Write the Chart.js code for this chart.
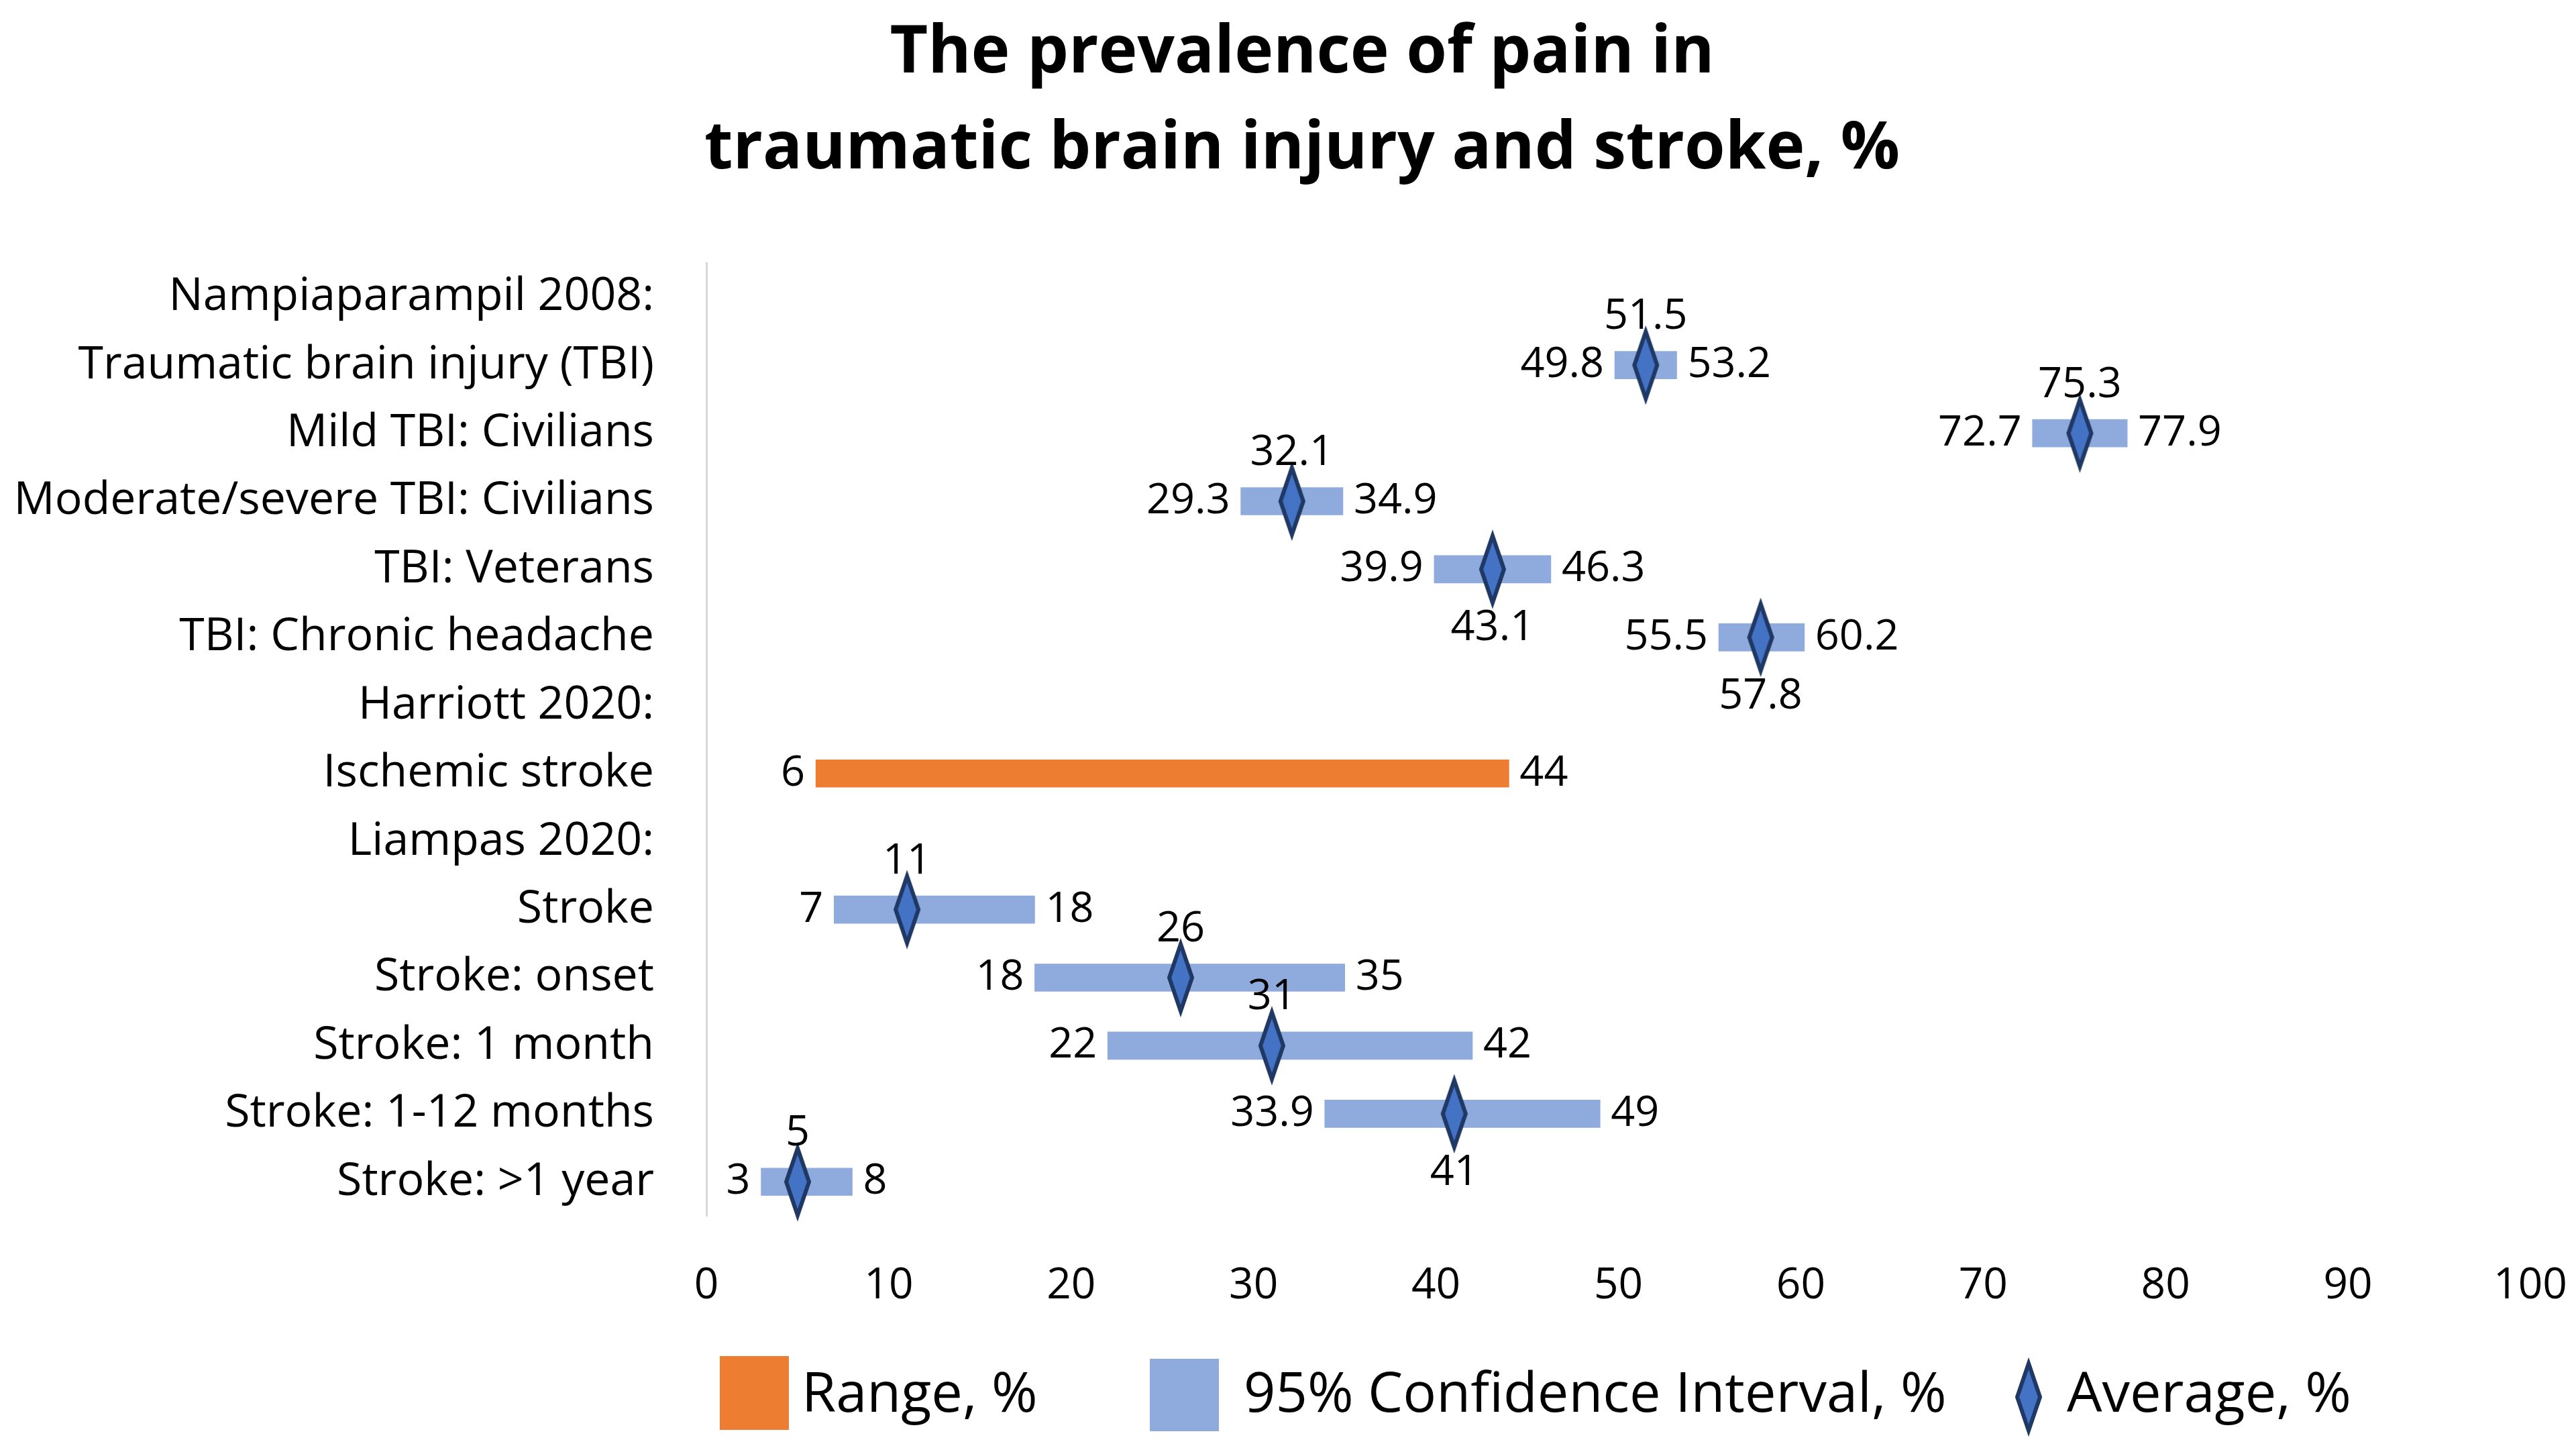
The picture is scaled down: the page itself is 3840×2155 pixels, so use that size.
<!DOCTYPE html>
<html>
<head>
<meta charset="utf-8">
<script src="https://cdn.jsdelivr.net/npm/chart.js@4.4.0/dist/chart.umd.min.js"></script>
<style>
  html, body { margin: 0; padding: 0; background: #fff; }
  #wrap { width: 3840px; height: 2155px; }
</style>
</head>
<body>
<div id="wrap"><canvas id="chart"></canvas></div>
<script>
// Chart data
const categories = [
    "Nampiaparampil 2008:",
    "Traumatic brain injury (TBI)",
    "Mild TBI: Civilians",
    "Moderate/severe TBI: Civilians",
    "TBI: Veterans",
    "TBI: Chronic headache",
    "Harriott 2020:",
    "Ischemic stroke",
    "Liampas 2020:",
    "Stroke",
    "Stroke: onset",
    "Stroke: 1 month",
    "Stroke: 1-12 months",
    "Stroke: >1 year"
];
const rangeLow  = [null, null, null, null, null, null, null, 6, null, null, null, null, null, null];
const rangeHigh = [null, null, null, null, null, null, null, 44, null, null, null, null, null, null];
const ciLow   = [null, 49.8, 72.7, 29.3, 39.9, 55.5, null, null, null, 7, 18, 22, 33.9, 3];
const ciHigh  = [null, 53.2, 77.9, 34.9, 46.3, 60.2, null, null, null, 18, 35, 42, 49, 8];
const average = [null, 51.5, 75.3, 32.1, 43.1, 57.8, null, null, null, 11, 26, 31, 41, 5];
// where the average label sits relative to its marker
const avgLabelSide = ["", "above", "above", "above", "below", "below", "", "", "", "above", "above", "above", "below", "above"];
const xTicks = [0, 10, 20, 30, 40, 50, 60, 70, 80, 90, 100];

const FONT = "'Open Sans', sans-serif";
const ORANGE = "#ED7D31";
const LIGHT_BLUE = "#8FAADC";
const DIAMOND_FILL = "#4472C4";
const DIAMOND_LINE = "#1F3864";

Chart.defaults.font.family = FONT;
Chart.defaults.color = "#000";

// Narrow diamond used as the average marker
function makeDiamond(halfW, halfH, lw) {
    const pad = 10;
    const c = document.createElement("canvas");
    c.width = 2 * (halfW + pad);
    c.height = 2 * (halfH + pad);
    const g = c.getContext("2d");
    const cx = c.width / 2, cy = c.height / 2;
    g.beginPath();
    g.moveTo(cx, cy - halfH);
    g.lineTo(cx + halfW, cy);
    g.lineTo(cx, cy + halfH);
    g.lineTo(cx - halfW, cy);
    g.closePath();
    g.fillStyle = DIAMOND_FILL;
    g.fill();
    g.lineWidth = lw;
    g.lineJoin = "miter";
    g.strokeStyle = DIAMOND_LINE;
    g.stroke();
    return c;
}
const diamond = makeDiamond(17, 50, 6);

function toPairs(lo, hi) {
    return lo.map((v, i) => (v === null ? null : [v, hi[i]]));
}

// Value labels next to bars and markers
const valueLabels = {
    id: "valueLabels",
    afterDatasetsDraw(chart) {
        const ctx = chart.ctx;
        const x = chart.scales.x;
        const y = chart.scales.y;
        ctx.save();
        ctx.font = "63px " + FONT;
        ctx.fillStyle = "#000";
        ctx.textBaseline = "middle";
        const sides = [[rangeLow, rangeHigh], [ciLow, ciHigh]];
        sides.forEach(([lo, hi]) => {
            lo.forEach((v, i) => {
                if (v === null) return;
                const yc = y.getPixelForValue(i);
                ctx.textAlign = "right";
                ctx.fillText(String(v), x.getPixelForValue(v) - 16, yc);
                ctx.textAlign = "left";
                ctx.fillText(String(hi[i]), x.getPixelForValue(hi[i]) + 16, yc);
            });
        });
        ctx.textAlign = "center";
        average.forEach((v, i) => {
            if (v === null) return;
            const yc = y.getPixelForValue(i);
            const dy = avgLabelSide[i] === "above" ? -72 : 88;
            ctx.fillText(String(v), x.getPixelForValue(v), yc + dy);
        });
        ctx.restore();
    }
};

// Legend drawn under the axis, as in the reference
const bottomLegend = {
    id: "bottomLegend",
    afterDraw(chart) {
        const ctx = chart.ctx;
        ctx.save();
        ctx.font = "83px " + FONT;
        ctx.textBaseline = "middle";
        ctx.textAlign = "left";
        const yc = 2080;
        ctx.fillStyle = ORANGE;
        ctx.fillRect(1073, 2021, 103, 110);
        ctx.fillStyle = LIGHT_BLUE;
        ctx.fillRect(1714, 2025, 103, 108);
        ctx.drawImage(diamond, 3024 - diamond.width / 2, 2082 - diamond.height / 2);
        ctx.fillStyle = "#000";
        ctx.fillText(chart.data.datasets[1].label, 1195, yc);
        ctx.fillText(chart.data.datasets[2].label, 1854, yc);
        ctx.fillText(chart.data.datasets[0].label, 3081, yc);
        ctx.restore();
    }
};

const ctx = document.getElementById("chart").getContext("2d");
new Chart(ctx, {
    data: {
        labels: categories,
        datasets: [
            {
                type: "line",
                label: "Average, %",
                data: average,
                showLine: false,
                pointStyle: diamond,
                pointRadius: 20,
                order: 0
            },
            {
                type: "bar",
                label: "Range, %",
                data: toPairs(rangeLow, rangeHigh),
                backgroundColor: ORANGE,
                barThickness: 41,
                grouped: false,
                order: 1
            },
            {
                type: "bar",
                label: "95% Confidence Interval, %",
                data: toPairs(ciLow, ciHigh),
                backgroundColor: LIGHT_BLUE,
                barThickness: 41,
                grouped: false,
                order: 2
            }
        ]
    },
    options: {
        indexAxis: "y",
        responsive: true,
        maintainAspectRatio: false,
        animation: false,
        devicePixelRatio: 1,
        layout: { padding: { left: 0, right: -42, top: 0, bottom: 0 } },
        plugins: {
            legend: { display: false },
            tooltip: { enabled: false },
            title: {
                display: true,
                text: ["The prevalence of pain in", "traumatic brain injury and stroke, %"],
                color: "#000",
                font: { family: FONT, size: 98, weight: "bold", lineHeight: "143px" },
                padding: { top: 9, bottom: 97 }
            }
        },
        scales: {
            x: {
                type: "linear",
                min: 0,
                max: 100,
                afterBuildTicks(scale) {
                    scale.ticks = xTicks.map(v => ({ value: v }));
                },
                afterFit(scale) {
                    scale.height = 343;
                    scale.paddingLeft = 0;
                    scale.paddingRight = 68;
                },
                grid: { display: false, drawTicks: false, tickLength: 0 },
                border: { display: false },
                ticks: { font: { size: 64 }, padding: 66, color: "#000" }
            },
            y: {
                type: "category",
                afterFit(scale) { scale.width = 1053; },
                grid: { display: false, drawTicks: false, tickLength: 0 },
                border: { display: true, color: "#D9D9D9", width: 3 },
                ticks: { font: { size: 68 }, padding: 78, color: "#000", autoSkip: false }
            }
        }
    },
    plugins: [valueLabels, bottomLegend]
});
</script>
</body>
</html>
